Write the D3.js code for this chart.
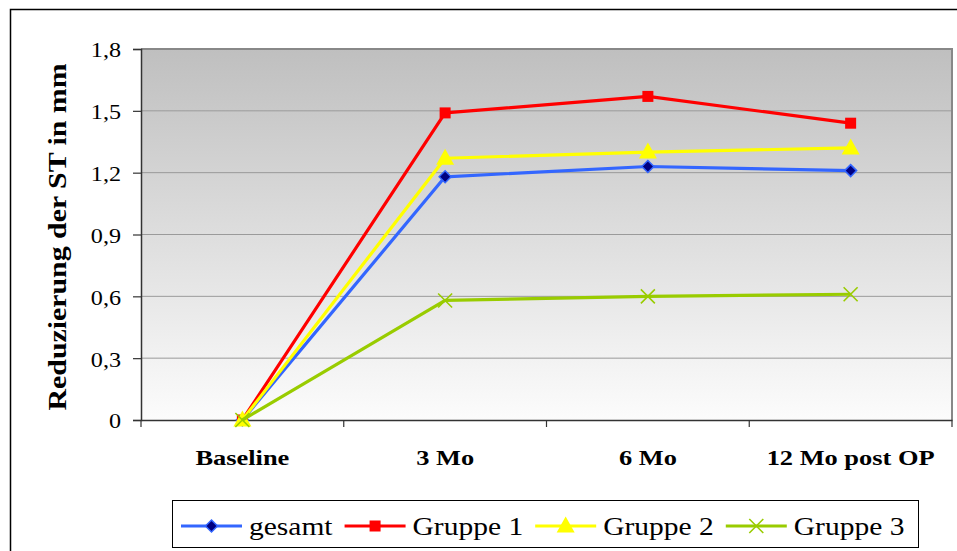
<!DOCTYPE html>
<html>
<head>
<meta charset="utf-8">
<script src="https://cdn.jsdelivr.net/npm/d3@7"></script>
<style>
  html, body { margin: 0; padding: 0; background: #fff; }
  svg { display: block; }
  svg text { font-family: "Liberation Serif", "Times New Roman", serif !important; fill: #000; }
</style>
</head>
<body>
<svg id="chart" width="957" height="551"></svg>
<script>
// Measurement points and mean reduction per group (mm)
const categories = ["Baseline", "3 Mo", "6 Mo", "12 Mo post OP"];
const gesamt  = [0, 1.18, 1.23, 1.21];
const gruppe1 = [0, 1.49, 1.57, 1.44];
const gruppe2 = [0, 1.27, 1.30, 1.32];
const gruppe3 = [0, 0.58, 0.60, 0.61];
const seriesNames = ["gesamt", "Gruppe 1", "Gruppe 2", "Gruppe 3"];
const yTicks = [0, 0.3, 0.6, 0.9, 1.2, 1.5, 1.8];
const yTitle = "Reduzierung der ST in mm";

const series = [
  { name: seriesNames[0], values: gesamt,  color: "#3366ff", marker: "diamond" },
  { name: seriesNames[1], values: gruppe1, color: "#ff0000", marker: "square" },
  { name: seriesNames[2], values: gruppe2, color: "#ffff00", marker: "triangle" },
  { name: seriesNames[3], values: gruppe3, color: "#99cc00", marker: "cross" }
];

const svg = d3.select("#chart");
const plot = { left: 141, top: 49, right: 952, bottom: 420 };
const stretch = 1.2; // horizontal widening of all lettering

function widen(sel, factor) {
  sel.each(function () {
    const w = this.getComputedTextLength();
    d3.select(this).attr("textLength", w * (factor || stretch)).attr("lengthAdjust", "spacingAndGlyphs");
  });
}

// Outer frame
svg.append("rect")
  .attr("x", 10.5).attr("y", 9.5)
  .attr("width", 1000).attr("height", 600)
  .attr("fill", "#fff").attr("stroke", "#000").attr("stroke-width", 1.5);

// Plot background gradient
const defs = svg.append("defs");
const grad = defs.append("linearGradient").attr("id", "bg").attr("x1", 0).attr("y1", 0).attr("x2", 0).attr("y2", 1);
grad.append("stop").attr("offset", "0%").attr("stop-color", "#bfbfbf");
grad.append("stop").attr("offset", "100%").attr("stop-color", "#fcfcfc");

svg.append("rect")
  .attr("x", plot.left).attr("y", plot.top)
  .attr("width", plot.right - plot.left).attr("height", plot.bottom - plot.top)
  .attr("fill", "url(#bg)");

const x = d3.scaleBand().domain(categories).range([plot.left, plot.right]).padding(0);
const y = d3.scaleLinear().domain([0, 1.8]).range([plot.bottom, plot.top]);
const cx = d => x(d) + x.bandwidth() / 2;

// Gridlines
svg.append("g").selectAll("line").data(yTicks.filter(t => t > 0))
  .join("line")
  .attr("x1", plot.left).attr("x2", plot.right)
  .attr("y1", d => y(d)).attr("y2", d => y(d))
  .attr("stroke", "#9a9a9a").attr("stroke-width", 1);

// Plot border (top & right)
svg.append("path")
  .attr("d", `M${plot.left},${plot.top}H${plot.right}V${plot.bottom}`)
  .attr("fill", "none").attr("stroke", "#888").attr("stroke-width", 2);

// Y axis
const yAxis = d3.axisLeft(y).tickValues(yTicks).tickSize(8).tickPadding(12)
  .tickFormat(d => d3.format(".1f")(d).replace(".", ",").replace(/^0,0$/, "0"));
const gy = svg.append("g").attr("transform", `translate(${plot.left},0)`).call(yAxis)
  .attr("font-family", null);
gy.select(".domain").attr("stroke", "#333").attr("stroke-width", 1.5);
gy.selectAll(".tick line").attr("stroke", "#333").attr("stroke-width", 1.2);
gy.selectAll(".tick text")
  .style("font-family", "'Liberation Serif', serif").attr("font-size", 21).attr("dy", "0.38em")
  .call(widen, 1.15);

// X axis
const xAxis = d3.axisBottom(x).tickSize(0).tickPadding(0);
const gx = svg.append("g").attr("transform", `translate(0,${plot.bottom})`).call(xAxis)
  .attr("font-family", null);
gx.select(".domain").attr("stroke", "#333").attr("stroke-width", 1.5);
gx.selectAll(".tick text")
  .style("font-family", "'Liberation Serif', serif").attr("font-size", 22).attr("font-weight", "bold")
  .attr("y", 45).attr("dy", 0)
  .call(widen);
// Category boundary ticks
gx.append("g").selectAll("line").data(d3.range(categories.length + 1))
  .join("line")
  .attr("x1", i => plot.left + i * x.bandwidth())
  .attr("x2", i => plot.left + i * x.bandwidth())
  .attr("y1", 0).attr("y2", 7)
  .attr("stroke", "#333").attr("stroke-width", 1.2);

// Y title
svg.append("text")
  .attr("transform", `translate(66,${(63 + 411) / 2}) rotate(-90)`)
  .attr("text-anchor", "middle")
  .attr("font-size", 26).attr("font-weight", "bold")
  .text(yTitle)
  .attr("textLength", 347).attr("lengthAdjust", "spacingAndGlyphs");

// Marker drawing
function drawMarker(g, type, color) {
  if (type === "diamond") {
    g.append("path").attr("d", "M0,-6L6,0L0,6L-6,0Z")
      .attr("fill", "#000080").attr("stroke", color).attr("stroke-width", 1.5);
  } else if (type === "square") {
    g.append("rect").attr("x", -5.5).attr("y", -5.5).attr("width", 11).attr("height", 11)
      .attr("fill", color);
  } else if (type === "triangle") {
    g.append("path").attr("d", "M0,-9.5L9,6.5L-9,6.5Z").attr("fill", color);
  } else if (type === "cross") {
    g.append("path").attr("d", "M-7,-7L7,7M-7,7L7,-7")
      .attr("stroke", color).attr("stroke-width", 1.6).attr("fill", "none");
  }
}

const line = d3.line().x(d => cx(d.c)).y(d => y(d.v));

series.forEach(s => {
  const pts = categories.map((c, i) => ({ c, v: s.values[i] }));
  const g = svg.append("g");
  g.append("path").datum(pts).attr("d", line)
    .attr("fill", "none").attr("stroke", s.color).attr("stroke-width", 3.2)
    .attr("stroke-linejoin", "round");
  pts.forEach(p => {
    const m = g.append("g").attr("transform", `translate(${cx(p.c)},${y(p.v)})`);
    drawMarker(m, s.marker, s.color);
  });
});

// Legend
const legend = svg.append("g");
legend.append("rect")
  .attr("x", 172.5).attr("y", 500.5).attr("width", 746).attr("height", 47)
  .attr("fill", "#fff").attr("stroke", "#000").attr("stroke-width", 1);
let lx = 181;
const ly = 526;
series.forEach(s => {
  const item = legend.append("g");
  item.append("line").attr("x1", lx).attr("x2", lx + 61).attr("y1", ly).attr("y2", ly)
    .attr("stroke", s.color).attr("stroke-width", 3.2);
  const m = item.append("g").attr("transform", `translate(${lx + 30.5},${ly})`);
  drawMarker(m, s.marker, s.color);
  const t = item.append("text").attr("x", lx + 68).attr("y", ly + 8.5)
    .attr("font-size", 25).text(s.name);
  widen(t, 1.18);
  lx = lx + 68 + (+t.attr("textLength")) + 12;
});
</script>
</body>
</html>
